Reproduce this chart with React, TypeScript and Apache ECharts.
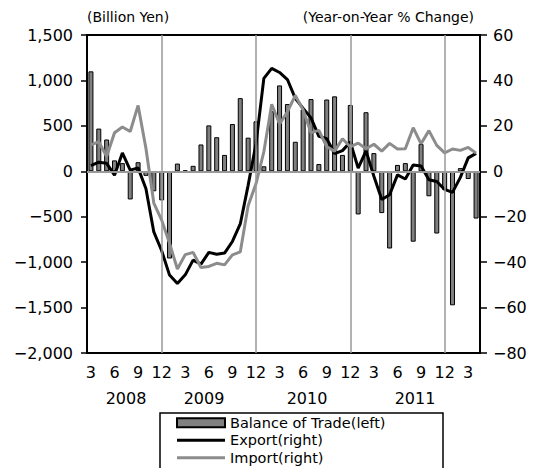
import React, { useEffect, useRef } from "react";
import * as echarts from "echarts";

// Months: Mar 2008 .. Apr 2012
const months: string[] = [
  "2008-03", "2008-04", "2008-05", "2008-06", "2008-07", "2008-08", "2008-09", "2008-10", "2008-11", "2008-12",
  "2009-01", "2009-02", "2009-03", "2009-04", "2009-05", "2009-06", "2009-07", "2009-08", "2009-09", "2009-10", "2009-11", "2009-12",
  "2010-01", "2010-02", "2010-03", "2010-04", "2010-05", "2010-06", "2010-07", "2010-08", "2010-09", "2010-10", "2010-11", "2010-12",
  "2011-01", "2011-02", "2011-03", "2011-04", "2011-05", "2011-06", "2011-07", "2011-08", "2011-09", "2011-10", "2011-11", "2011-12",
  "2012-01", "2012-02", "2012-03", "2012-04",
];

// Balance of trade (billion yen, left axis)
const balance: number[] = [
  1100, 470, 350, 120, 90, -310, 100, -50, -220, -320,
  -960, 85, 10, 60, 295, 505, 375, 180, 520, 805, 370, 550,
  55, 660, 945, 740, 325, 680, 795, 80, 790, 825, 180, 730,
  -475, 650, 200, -460, -850, 70, 90, -775, 300, -275, -685, -205,
  -1475, 35, -85, -520,
];

// Export, YoY % (right axis)
const exportYoY: number[] = [
  2.5, 4.0, 3.5, -1.7, 8.1, 0.5, 1.5, -7.7, -26.7, -35.0,
  -45.7, -49.4, -45.6, -39.1, -40.9, -35.7, -36.5, -36.0, -30.9, -23.2, -6.2, 12.1,
  40.9, 45.3, 43.5, 40.4, 32.1, 27.7, 23.5, 15.4, 14.4, 7.8, 9.1, 12.9,
  1.4, 9.0, -2.2, -12.4, -10.3, -1.6, -3.4, 2.8, 2.3, -3.7, -4.5, -8.0,
  -9.3, -2.7, 5.9, 7.9,
];

// Import, YoY % (right axis)
const importYoY: number[] = [
  11.6, 13.0, 6.5, 17.0, 19.5, 17.5, 29.0, 10.0, -14.0, -21.5,
  -31.7, -43.0, -36.7, -35.7, -42.4, -41.9, -40.5, -41.2, -36.8, -35.5, -15.2, -5.5,
  8.6, 29.5, 20.8, 26.2, 33.4, 27.0, 17.0, 18.0, 10.8, 8.9, 14.3, 10.8,
  12.4, 9.9, 11.9, 8.9, 12.3, 9.8, 9.9, 19.2, 12.1, 17.9, 11.4, 8.1,
  9.8, 9.2, 10.5, 8.0,
];

const yearLabels: string[] = ["2008", "2009", "2010", "2011"];
const yearLabelX: number[] = [126, 204, 307, 415];
const decemberMarks: string[] = ["2008-12", "2009-12", "2010-12", "2011-12"];

const leftTicks = { min: -2000, max: 1500, interval: 500 };
const rightTicks = { min: -80, max: 60, interval: 20 };

const FONT = "DejaVu Sans";
const LINE_ICON = "path://M0,0H48V3H0Z";

function fmtNum(v: number): string {
  const abs = Math.abs(v);
  const s = abs.toString().replace(/\B(?=(\d{3})+(?!\d))/g, ",");
  return v < 0 ? "\u2212" + s : s;
}

export default function App() {
  const ref = useRef<HTMLDivElement>(null);
  useEffect(() => {
    if (!ref.current) return;
    const chart = echarts.init(ref.current, undefined, { renderer: "svg" });
    const option: any = {
      animation: false,
      backgroundColor: "#fff",
      textStyle: { fontFamily: FONT },
      grid: {
        left: 87,
        right: 54,
        top: 35,
        bottom: 115,
        show: true,
        borderColor: "#000",
        borderWidth: 2,
        backgroundColor: "transparent",
      },
      legend: {
        left: 160,
        top: 413,
        orient: "vertical",
        padding: [1, 10, 0, 16],
        itemWidth: 48,
        itemHeight: 9,
        itemGap: 0,
        itemTextGap: 11,
        symbolKeepAspect: true,
        textStyle: { fontFamily: FONT, fontSize: 14.5, color: "#000", lineHeight: 17.5 },
        data: [
          { name: "Balance of Trade(left)", icon: "rect" },
          { name: "Export(right)", icon: LINE_ICON, itemStyle: { color: "#000", borderWidth: 0 } },
          { name: "Import(right)", icon: LINE_ICON, itemStyle: { color: "#8c8c8c", borderWidth: 0 } },
        ],
      },
      xAxis: {
        type: "category",
        data: months,
        boundaryGap: true,
        axisLine: { lineStyle: { color: "#000", width: 2 } },
        axisTick: { show: false },
        splitLine: { show: false },
        axisLabel: {
          interval: (idx: number) => idx % 3 === 0,
          formatter: (v: string) => String(parseInt(v.split("-")[1], 10)),
          fontFamily: FONT,
          fontSize: 16,
          color: "#000",
          margin: 11,
        },
      },
      yAxis: [
        {
          type: "value",
          position: "left",
          min: leftTicks.min,
          max: leftTicks.max,
          interval: leftTicks.interval,
          axisLine: { show: true, lineStyle: { color: "#000", width: 2 } },
          axisTick: { show: true, length: 6, lineStyle: { color: "#000", width: 1.5 } },
          splitLine: { show: false },
          axisLabel: {
            formatter: (v: number) => fmtNum(v),
            fontFamily: FONT,
            fontSize: 16,
            color: "#000",
            margin: 14,
          },
        },
        {
          type: "value",
          position: "right",
          min: rightTicks.min,
          max: rightTicks.max,
          interval: rightTicks.interval,
          axisLine: { show: true, lineStyle: { color: "#000", width: 2 } },
          axisTick: { show: true, length: 7, lineStyle: { color: "#000", width: 1.5 } },
          splitLine: { show: false },
          axisLabel: {
            formatter: (v: number) => fmtNum(v),
            fontFamily: FONT,
            fontSize: 16,
            color: "#000",
            margin: 13,
          },
        },
      ],
      graphic: [
        {
          type: "text",
          left: 87,
          top: 10,
          style: { text: "(Billion Yen)", fontFamily: FONT, fontSize: 14, fill: "#000" },
        },
        {
          type: "text",
          right: 534 - 474,
          top: 10,
          style: { text: "(Year-on-Year % Change)", fontFamily: FONT, fontSize: 14, fill: "#000" },
        },
        ...yearLabels.map((t, i) => ({
          type: "text",
          x: yearLabelX[i],
          y: 398,
          style: {
            text: t,
            fontFamily: FONT,
            fontSize: 16,
            fill: "#000",
            align: "center",
            verticalAlign: "middle",
          },
        })),
        {
          type: "rect",
          shape: { x: 160, y: 413, width: 283, height: 80 },
          style: { fill: "none", stroke: "#000", lineWidth: 1.5 },
          silent: true,
        },
      ],
      series: [
        {
          name: "guides",
          type: "line",
          data: months.map(() => null),
          z: 1,
          silent: true,
          symbol: "none",
          markLine: {
            silent: true,
            symbol: "none",
            label: { show: false },
            lineStyle: { color: "#999", width: 1.5, type: "solid" },
            data: [
              ...decemberMarks.map((m) => ({ xAxis: m })),
              { yAxis: 0, lineStyle: { color: "#999", width: 2, type: "solid" } },
            ],
          },
        },
        {
          name: "Balance of Trade(left)",
          type: "bar",
          yAxisIndex: 0,
          data: balance,
          barWidth: 5,
          z: 2,
          itemStyle: { color: "#808080", borderColor: "#000", borderWidth: 1 },
        },
        {
          name: "Export(right)",
          type: "line",
          yAxisIndex: 1,
          data: exportYoY,
          symbol: "none",
          showSymbol: false,
          z: 3,
          lineStyle: { color: "#000", width: 3 },
          itemStyle: { color: "#000" },
        },
        {
          name: "Import(right)",
          type: "line",
          yAxisIndex: 1,
          data: importYoY,
          symbol: "none",
          showSymbol: false,
          z: 4,
          lineStyle: { color: "#8c8c8c", width: 3 },
          itemStyle: { color: "#8c8c8c" },
        },
      ],
    };
    chart.setOption(option);
    return () => chart.dispose();
  }, []);
  return (
    <div
      ref={ref}
      style={{ position: "fixed", left: 0, top: 0, width: 534, height: 468, background: "#fff" }}
    />
  );
}
